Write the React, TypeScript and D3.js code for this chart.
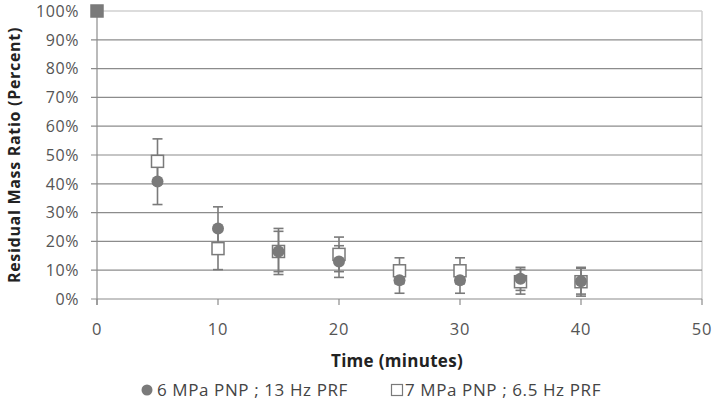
import React from "react";
import * as d3 from "d3";

const times = [0, 5, 10, 15, 20, 25, 30, 35, 40];
const s1Values = [100, 40.8, 24.5, 16.5, 13, 6.5, 6.5, 7, 6.2];
const s1Errors = [0, 8, 7.5, 7, 5.5, 4.5, 4.5, 4, 4.5];
const s2Values = [100, 47.8, 17.5, 16.5, 15.5, 9.8, 9.8, 6, 6];
const s2Errors = [0, 7.8, 7.3, 8, 6, 4.5, 4.5, 4.3, 5];
const xTicks = [0, 10, 20, 30, 40, 50];
const yTicks = [0, 10, 20, 30, 40, 50, 60, 70, 80, 90, 100];
const series1Name = "6 MPa PNP ; 13 Hz PRF";
const series2Name = "7 MPa PNP ; 6.5 Hz PRF";

const W = 714, H = 406;
const L = 97, R = 702, T = 11, B = 299;
const markerColor = "#7a7a7a";
const gridColor = "#8c8c8c";
const font = "'Open Sans', 'Liberation Sans', sans-serif";

export default function App() {
  const x = d3.scaleLinear().domain([0, 50]).range([L, R]);
  const y = d3.scaleLinear().domain([0, 100]).range([B, T]);
  const cap = 5;

  const errBars = (vals: number[], errs: number[], key: string) =>
    times.map((t, i) =>
      errs[i] > 0 ? (
        <g key={key + i} stroke={markerColor} strokeWidth={1.6}>
          <line x1={x(t)} x2={x(t)} y1={y(vals[i] + errs[i])} y2={y(vals[i] - errs[i])} />
          <line x1={x(t) - cap} x2={x(t) + cap} y1={y(vals[i] + errs[i])} y2={y(vals[i] + errs[i])} />
          <line x1={x(t) - cap} x2={x(t) + cap} y1={y(vals[i] - errs[i])} y2={y(vals[i] - errs[i])} />
        </g>
      ) : null
    );

  return (
    <svg width={W} height={H} style={{ position: "absolute", left: 0, top: 0, background: "#fff" }}>
      <rect x={0} y={0} width={W} height={H} fill="#fff" />
      {/* plot border top/right */}
      <line x1={L} x2={R} y1={y(100)} y2={y(100)} stroke="#d0d0d0" strokeWidth={1.5} />
      <line x1={R} x2={R} y1={y(100)} y2={B} stroke="#d0d0d0" strokeWidth={1.5} />
      {/* gridlines */}
      {yTicks.filter((v) => v > 0 && v < 100).map((v) => (
        <line key={"g" + v} x1={L - 6} x2={R} y1={y(v)} y2={y(v)} stroke={gridColor} strokeWidth={1.2} />
      ))}
      <line x1={L - 6} x2={L} y1={y(100)} y2={y(100)} stroke={gridColor} strokeWidth={1.2} />
      {/* axes */}
      <line x1={L - 6} x2={R} y1={B} y2={B} stroke={gridColor} strokeWidth={1.2} />
      <line x1={L} x2={L} y1={y(100)} y2={B + 6} stroke={gridColor} strokeWidth={1.2} />
      {xTicks.map((v) => (
        <line key={"xt" + v} x1={x(v)} x2={x(v)} y1={B} y2={B + 6} stroke={gridColor} strokeWidth={1.2} />
      ))}
      {/* tick labels */}
      {yTicks.map((v) => (
        <text key={"yl" + v} x={79} y={y(v)} dy="0.36em" textAnchor="end" fontFamily={font} fontSize={16} letterSpacing={0.6} fill="#555">
          {v + "%"}
        </text>
      ))}
      {xTicks.map((v) => (
        <text key={"xl" + v} x={x(v)} y={329} dy="0.36em" textAnchor="middle" fontFamily={font} fontSize={16.5} letterSpacing={0.8} fill="#555">
          {v}
        </text>
      ))}
      {/* axis titles */}
      <text x={397} y={361} dy="0.36em" textAnchor="middle" fontFamily={font} fontSize={17} letterSpacing={0.3} fontWeight="bold" fill="#222">
        Time (minutes)
      </text>
      <text transform={`translate(14,${(T + B) / 2}) rotate(-90)`} dy="0.36em" textAnchor="middle" fontFamily={font} fontSize={16} letterSpacing={0.7} fontWeight="bold" fill="#222">
        Residual Mass Ratio (Percent)
      </text>
      {/* error bars */}
      {errBars(s2Values, s2Errors, "e2")}
      {errBars(s1Values, s1Errors, "e1")}
      {/* series 2 squares */}
      {times.map((t, i) => (
        <rect key={"s2" + i} x={x(t) - 6} y={y(s2Values[i]) - 6} width={12} height={12}
          fill={i === 0 ? markerColor : "#fff"} stroke={markerColor} strokeWidth={1.5} />
      ))}
      {/* series 1 circles */}
      {times.map((t, i) => i === 0 ? null : (
        <circle key={"s1" + i} cx={x(t)} cy={y(s1Values[i])} r={6} fill={markerColor} />
      ))}
      {/* legend */}
      <circle cx={147} cy={390} r={5.5} fill={markerColor} />
      <text x={157} y={390} dy="0.36em" fontFamily={font} fontSize={17} letterSpacing={0.6} fill="#444">{series1Name}</text>
      <rect x={391.5} y={384.5} width={11} height={11} fill="#fff" stroke={markerColor} strokeWidth={1.2} />
      <text x={405} y={390} dy="0.36em" fontFamily={font} fontSize={17} letterSpacing={0.6} fill="#444">{series2Name}</text>
    </svg>
  );
}
